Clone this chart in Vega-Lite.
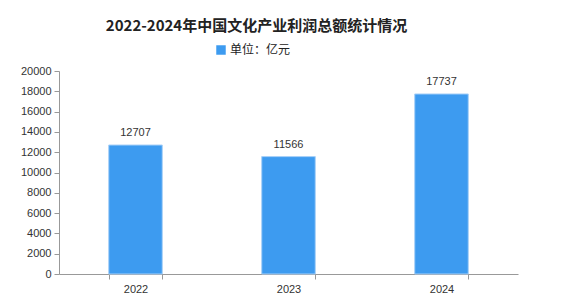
{
  "$schema": "https://vega.github.io/schema/vega-lite/v6.json",
  "width": 459,
  "height": 203,
  "autosize": {"type": "none"},
  "padding": {"left": 59, "top": 71, "right": 55, "bottom": 27},
  "background": "white",
  "config": {"view": {"stroke": null}, "font": "Liberation Sans"},
  "title": {
    "text": "2022-2024年中国文化产业利润总额统计情况",
    "font": "Noto Sans CJK SC",
    "fontSize": 15,
    "fontWeight": "bold",
    "color": "#222222",
    "anchor": "middle",
    "dx": -32,
    "offset": 10
  },
  "data": {
    "values": [
      {"year": "2022", "value": 12707, "unit": "单位：亿元"},
      {"year": "2023", "value": 11566, "unit": "单位：亿元"},
      {"year": "2024", "value": 17737, "unit": "单位：亿元"}
    ]
  },
  "encoding": {
    "x": {
      "field": "year",
      "type": "ordinal",
      "scale": {"paddingInner": 0.65, "paddingOuter": 0.325},
      "axis": {
        "title": null,
        "labelAngle": 0,
        "labelFontSize": 11,
        "labelColor": "#333333",
        "labelPadding": 4,
        "domainColor": "#999999",
        "ticks": true,
        "tickBand": "extent",
        "tickColor": "#999999",
        "tickSize": 5
      }
    },
    "y": {
      "field": "value",
      "type": "quantitative",
      "scale": {"domain": [0, 20000]},
      "axis": {
        "title": null,
        "values": [0, 2000, 4000, 6000, 8000, 10000, 12000, 14000, 16000, 18000, 20000],
        "format": "d",
        "labelFontSize": 11,
        "labelColor": "#333333",
        "grid": false,
        "domainColor": "#999999",
        "tickColor": "#999999",
        "tickSize": 5,
        "labelPadding": 3
      }
    }
  },
  "layer": [
    {
      "mark": {"type": "bar", "stroke": "#a8d0f8", "strokeWidth": 1},
      "encoding": {
        "color": {
          "field": "unit",
          "type": "nominal",
          "scale": {"range": ["#3d9bf0"]},
          "legend": {
            "title": null,
            "orient": "none",
            "legendX": 156,
            "legendY": -27,
            "symbolType": "square",
            "symbolSize": 90,
            "symbolStrokeWidth": 0,
            "labelFont": "Noto Sans CJK SC",
            "labelFontSize": 12,
            "labelColor": "#222222",
            "labelOffset": 3
          }
        }
      }
    },
    {
      "mark": {"type": "text", "dy": -12, "fontSize": 11, "color": "#333333"},
      "encoding": {"text": {"field": "value", "type": "quantitative", "format": "d"}}
    }
  ]
}
